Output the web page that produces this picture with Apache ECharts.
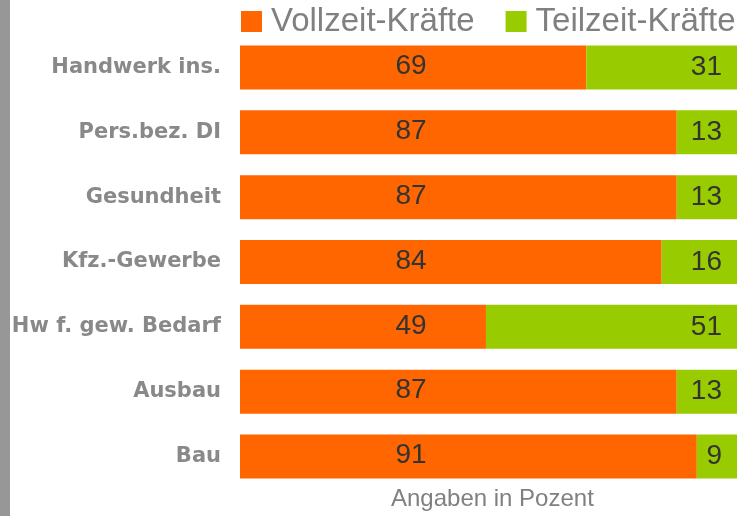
<!DOCTYPE html>
<html>
<head>
<meta charset="utf-8">
<script src="https://cdn.jsdelivr.net/npm/echarts@6/dist/echarts.min.js"></script>
<style>
  html, body { margin: 0; padding: 0; background: #fff; }
  #chart { width: 737px; height: 516px; }
</style>
</head>
<body>
<div id="chart"></div>
<script>
// Branchen (von oben nach unten)
const categories = ['Handwerk ins.', 'Pers.bez. DI', 'Gesundheit', 'Kfz.-Gewerbe', 'Hw f. gew. Bedarf', 'Ausbau', 'Bau'];
const vollzeit = [69, 87, 87, 84, 49, 87, 91];
const teilzeit = [31, 13, 13, 16, 51, 13, 9];
const seriesNames = ['Vollzeit-Kräfte', 'Teilzeit-Kräfte'];
const axisNote = 'Angaben in Pozent';

const chart = echarts.init(document.getElementById('chart'));

const valueFont = {
  color: '#333333',
  fontFamily: 'Liberation Sans, Arial, sans-serif',
  fontSize: 28
};

const option = {
  animation: false,
  color: ['#FF6600', '#99CC00'],
  legend: {
    data: seriesNames,
    left: 241,
    top: 5,
    padding: 0,
    icon: 'rect',
    itemWidth: 21,
    itemHeight: 21,
    itemGap: 31,
    textStyle: {
      color: '#808080',
      fontFamily: 'Liberation Sans, Arial, sans-serif',
      fontSize: 33,
      lineHeight: 33,
      padding: [0, 0, 0, 4]
    }
  },
  title: {
    text: axisNote,
    left: 391,
    top: 487,
    padding: 0,
    textStyle: {
      color: '#808080',
      fontFamily: 'Liberation Sans, Arial, sans-serif',
      fontSize: 24,
      fontWeight: 'normal',
      lineHeight: 24
    }
  },
  // grauer Rand links
  graphic: [{
    type: 'rect',
    shape: { x: 0, y: 0, width: 10, height: 516 },
    style: { fill: '#979797' },
    silent: true
  }],
  // Diagramm läuft rechts etwas über den Rand hinaus
  grid: {
    left: 240,
    width: 502,
    top: 35,
    height: 454,
    outerBoundsMode: 'none'
  },
  xAxis: {
    type: 'value',
    min: 0,
    max: 100,
    show: false
  },
  yAxis: {
    type: 'category',
    data: categories,
    inverse: true,
    axisLine: { show: false },
    axisTick: { show: false },
    axisLabel: {
      margin: 19,
      color: '#898989',
      fontFamily: 'DejaVu Sans, sans-serif',
      fontWeight: 'bold',
      fontSize: 21
    }
  },
  series: [
    {
      name: seriesNames[0],
      type: 'bar',
      stack: 'total',
      barWidth: 44,
      data: vollzeit,
      label: {
        show: true,
        position: [171, '50%'],
        align: 'center',
        verticalAlign: 'middle',
        offset: [0, -1],
        ...valueFont
      }
    },
    {
      name: seriesNames[1],
      type: 'bar',
      stack: 'total',
      barWidth: 44,
      data: teilzeit,
      label: {
        show: true,
        position: 'insideRight',
        distance: 20,
        ...valueFont
      }
    }
  ]
};

chart.setOption(option);
window.addEventListener('resize', () => chart.resize());
</script>
</body>
</html>
